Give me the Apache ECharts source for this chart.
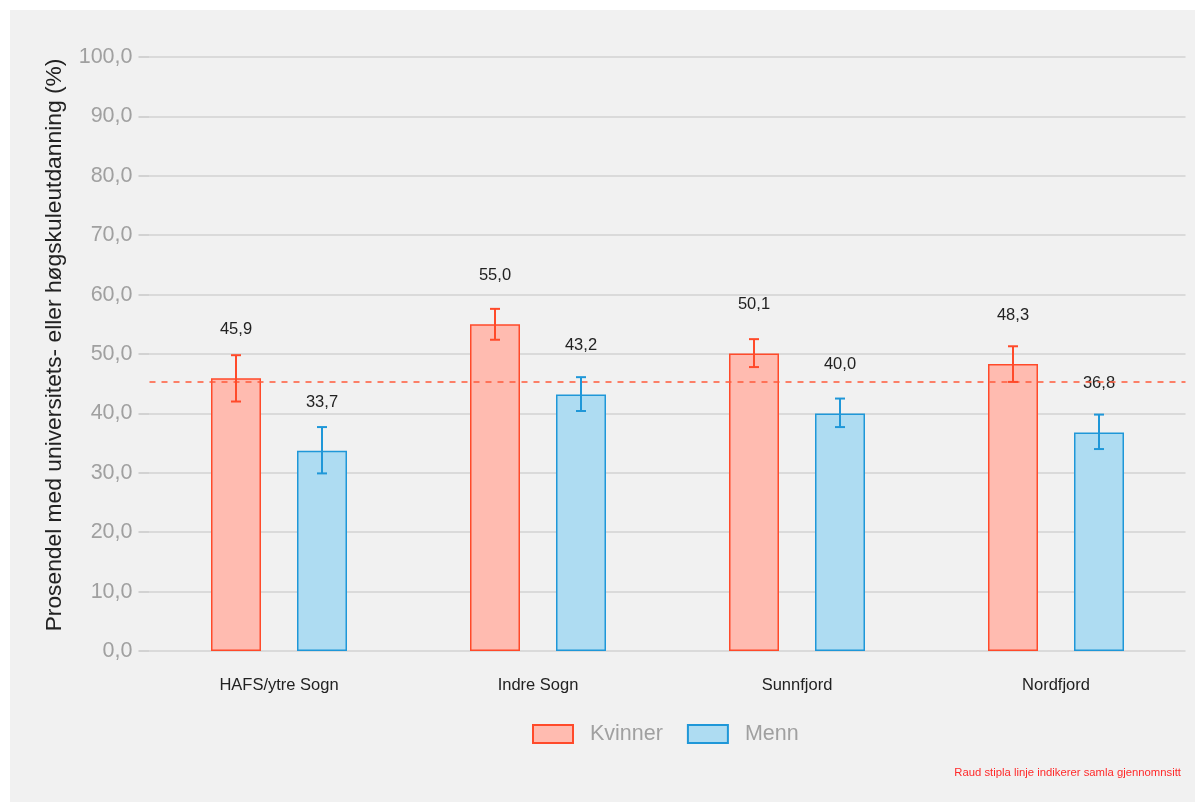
<!DOCTYPE html>
<html>
<head>
<meta charset="utf-8">
<script src="https://cdn.jsdelivr.net/npm/echarts@6/dist/echarts.min.js"></script>
<style>html,body{margin:0;padding:0;background:#fff;}#c{width:1201px;height:805px;}</style>
</head>
<body>
<div id="c"></div>
<script>
const categories = ['HAFS/ytre Sogn', 'Indre Sogn', 'Sunnfjord', 'Nordfjord'];
const kvinner = [45.9, 55.0, 50.1, 48.3];
const menn = [33.7, 43.2, 40.0, 36.8];
const kvinnerLow = [42.0, 52.4, 47.8, 45.3];
const kvinnerHigh = [49.8, 57.6, 52.5, 51.3];
const mennLow = [29.9, 40.4, 37.7, 34.0];
const mennHigh = [37.7, 46.1, 42.5, 39.8];
const mean = 45.3;
const yTicks = [0, 10, 20, 30, 40, 50, 60, 70, 80, 90, 100];

const redLine = '#ff4a2a', redFill = '#ffbbb0';
const blueLine = '#1f97d8', blueFill = '#aedcf2';
const fontFam = '"Liberation Sans", Arial, sans-serif';

function errSeries(name, low, high, color, offset) {
  return {
    type: 'custom', name: name + '_err', z: 5, silent: true,
    data: low.map((l, i) => [i, l, high[i]]),
    renderItem: function (params, api) {
      const i = api.value(0);
      const p1 = api.coord([i, api.value(1)]);
      const p2 = api.coord([i, api.value(2)]);
      const x = p1[0] + offset, hw = 5;
      const st = { stroke: color, lineWidth: 2 };
      return { type: 'group', children: [
        { type: 'line', shape: { x1: x, y1: p1[1], x2: x, y2: p2[1] }, style: st },
        { type: 'line', shape: { x1: x - hw, y1: p1[1], x2: x + hw, y2: p1[1] }, style: st },
        { type: 'line', shape: { x1: x - hw, y1: p2[1], x2: x + hw, y2: p2[1] }, style: st }
      ]};
    }
  };
}

const fmt = v => v.toFixed(1).replace('.', ',');
const chart = echarts.init(document.getElementById('c'));
chart.setOption({
  backgroundColor: '#ffffff',
  animation: false,
  textStyle: { fontFamily: fontFam },
  graphic: [
    { type: 'rect', z: -10, silent: true, shape: { x: 10, y: 10, width: 1185, height: 792 }, style: { fill: '#f1f1f1' } },
    { type: 'text', right: 20, top: 767, style: { text: 'Raud stipla linje indikerer samla gjennomnsitt', fill: '#ff2a2a', fontSize: 11.3, fontFamily: fontFam } }
  ],
  grid: { left: 149.5, right: 15.5, top: 57, bottom: 154 },
  legend: {
    left: 527, top: 718, itemWidth: 40, itemHeight: 18, itemGap: 24, icon: 'rect',
    textStyle: { color: '#a0a0a0', fontSize: 21.5, fontFamily: fontFam, padding: [0, 0, 0, 12] },
    data: ['Kvinner', 'Menn']
  },
  xAxis: {
    type: 'category', data: categories,
    axisLine: { show: false }, axisTick: { show: false },
    axisLabel: { color: '#222', fontSize: 16.5, margin: 26, fontFamily: fontFam }
  },
  yAxis: {
    type: 'value', min: 0, max: 100, interval: 10,
    name: 'Prosendel med universitets- eller høgskuleutdanning (%)',
    nameLocation: 'middle', nameGap: 83,
    nameTextStyle: { color: '#222', fontSize: 22.8, fontFamily: fontFam, padding: [0, 0, 0, 18] },
    axisLine: { show: false },
    axisTick: { show: true, length: 11, lineStyle: { color: '#c8c8c8', width: 1.5 } },
    axisLabel: { color: '#a0a0a0', fontSize: 21.5, margin: 17, fontFamily: fontFam,
      formatter: v => yTicks.includes(v) ? fmt(v) : '' },
    splitLine: { lineStyle: { color: '#d2d2d2', width: 1.5 } }
  },
  series: [
    {
      name: 'Kvinner', type: 'bar', data: kvinner, barWidth: 50, barGap: '72%',
      itemStyle: { color: redFill, borderColor: redLine, borderWidth: 1.5 },
      label: { show: true, position: 'top', distance: 40, color: '#222', fontSize: 16.5, formatter: p => fmt(p.value), fontFamily: fontFam },
      markLine: {
        silent: true, symbol: 'none', label: { show: false },
        lineStyle: { color: '#ff5a3a', type: [6, 6], width: 1.5 },
        data: [{ yAxis: mean }]
      }
    },
    {
      name: 'Menn', type: 'bar', data: menn, barWidth: 50,
      itemStyle: { color: blueFill, borderColor: blueLine, borderWidth: 1.5 },
      label: { show: true, position: 'top', distance: 40, color: '#222', fontSize: 16.5, formatter: p => fmt(p.value), fontFamily: fontFam }
    },
    errSeries('Kvinner', kvinnerLow, kvinnerHigh, redLine, -43),
    errSeries('Menn', mennLow, mennHigh, blueLine, 43)
  ]
});
</script>
</body>
</html>
